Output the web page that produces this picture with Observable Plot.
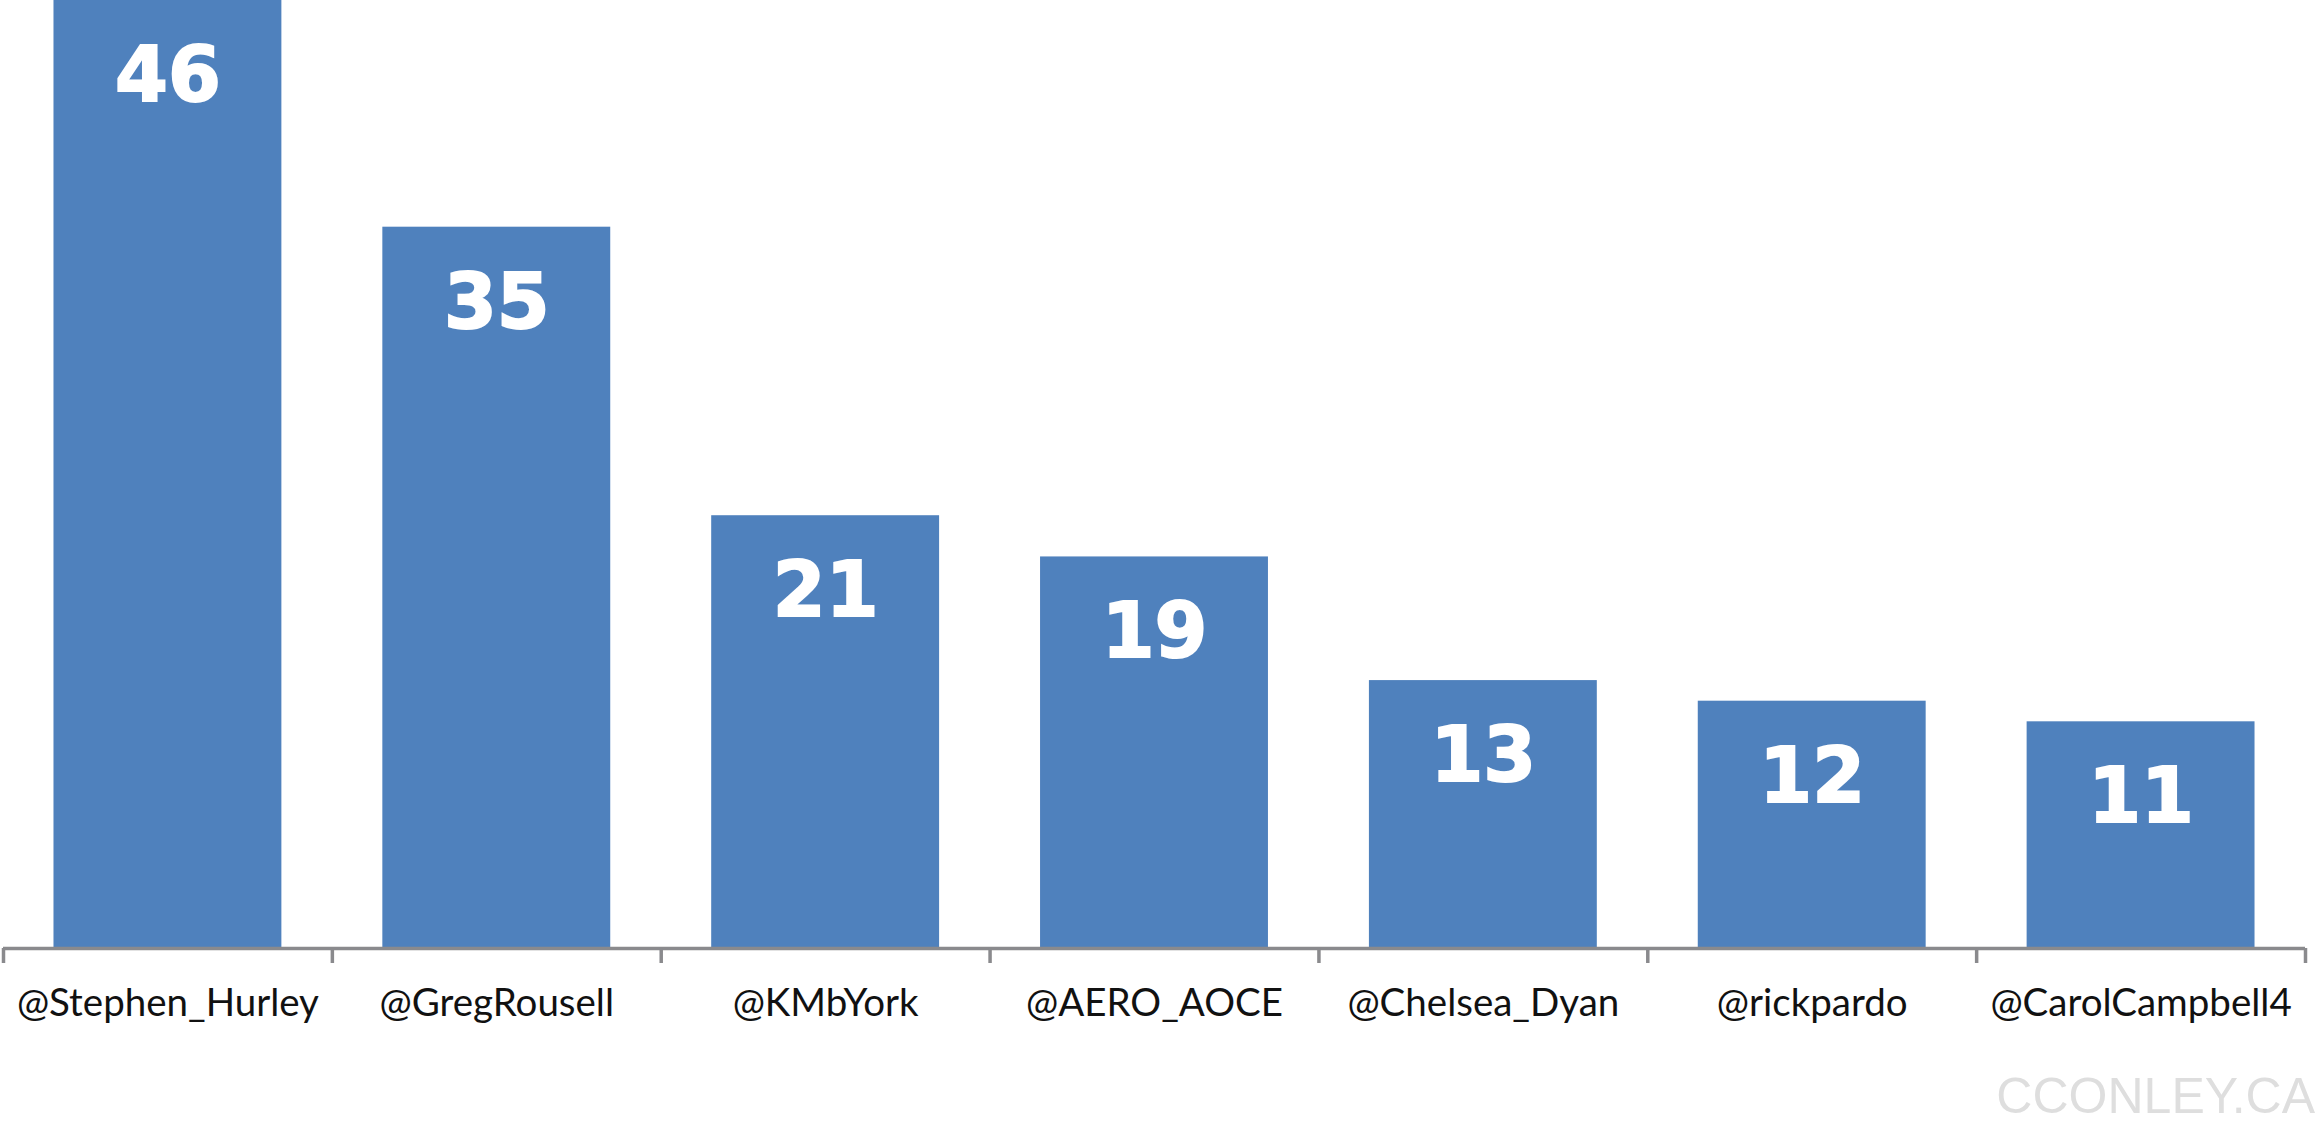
<!DOCTYPE html>
<html>
<head>
<meta charset="utf-8">
<script src="https://cdn.jsdelivr.net/npm/d3@7"></script>
<script src="https://cdn.jsdelivr.net/npm/@observablehq/plot@0.6"></script>
<style>
  html, body { margin: 0; padding: 0; background: #fff; }
  #wrap { position: relative; width: 2322px; height: 1124px; overflow: hidden; }
  #mark { position: absolute; right: 7px; top: 1076px; line-height: 40px; font-family: "Liberation Sans", Arial, sans-serif; font-size: 50px; color: #dedede; }
</style>
</head>
<body>
<div id="wrap"><div id="chart"></div><div id="mark">CCONLEY.CA</div></div>
<script>
const handles = ["@Stephen_Hurley", "@GregRousell", "@KMbYork", "@AERO_AOCE", "@Chelsea_Dyan", "@rickpardo", "@CarolCampbell4"];
const counts = [46, 35, 21, 19, 13, 12, 11];

const data = handles.map((h, i) => ({handle: h, count: counts[i], i}));
const gap = 0.1535;

const chart = Plot.plot({
  width: 2322,
  height: 1124,
  marginTop: 0,
  marginBottom: 176,
  marginLeft: 3,
  marginRight: 17,
  x: {type: "linear", domain: [0, handles.length], axis: null},
  y: {domain: [0, 46], axis: null},
  marks: [
    Plot.rectY(data, {x1: d => d.i + gap, x2: d => d.i + 1 - gap, y1: 0, y2: "count", fill: "#4F81BD"}),
    Plot.text(data, {x: d => d.i + 0.5, y: "count", text: d => String(d.count), dy: 76, fill: "white",
      stroke: "white", strokeWidth: 2, strokeLinejoin: "miter", fontSize: 76, fontWeight: "bold",
      fontFamily: "'DejaVu Sans', sans-serif"}),
    Plot.ruleY([0], {stroke: "#8a8a8d", strokeWidth: 3.5}),
    Plot.axisX({ticks: d3.range(handles.length + 1), tickSize: 15, tickFormat: () => "", stroke: "#8a8a8d", strokeWidth: 3.5}),
    Plot.axisX({ticks: d3.range(handles.length).map(i => i + 0.5), tickSize: 0, tickPadding: 40,
      tickFormat: v => handles[Math.floor(v)], fontSize: 38.5, fontFamily: "Lato, 'Open Sans', sans-serif", fill: "#111"})
  ]
});
document.getElementById("chart").appendChild(chart);
</script>
</body>
</html>
